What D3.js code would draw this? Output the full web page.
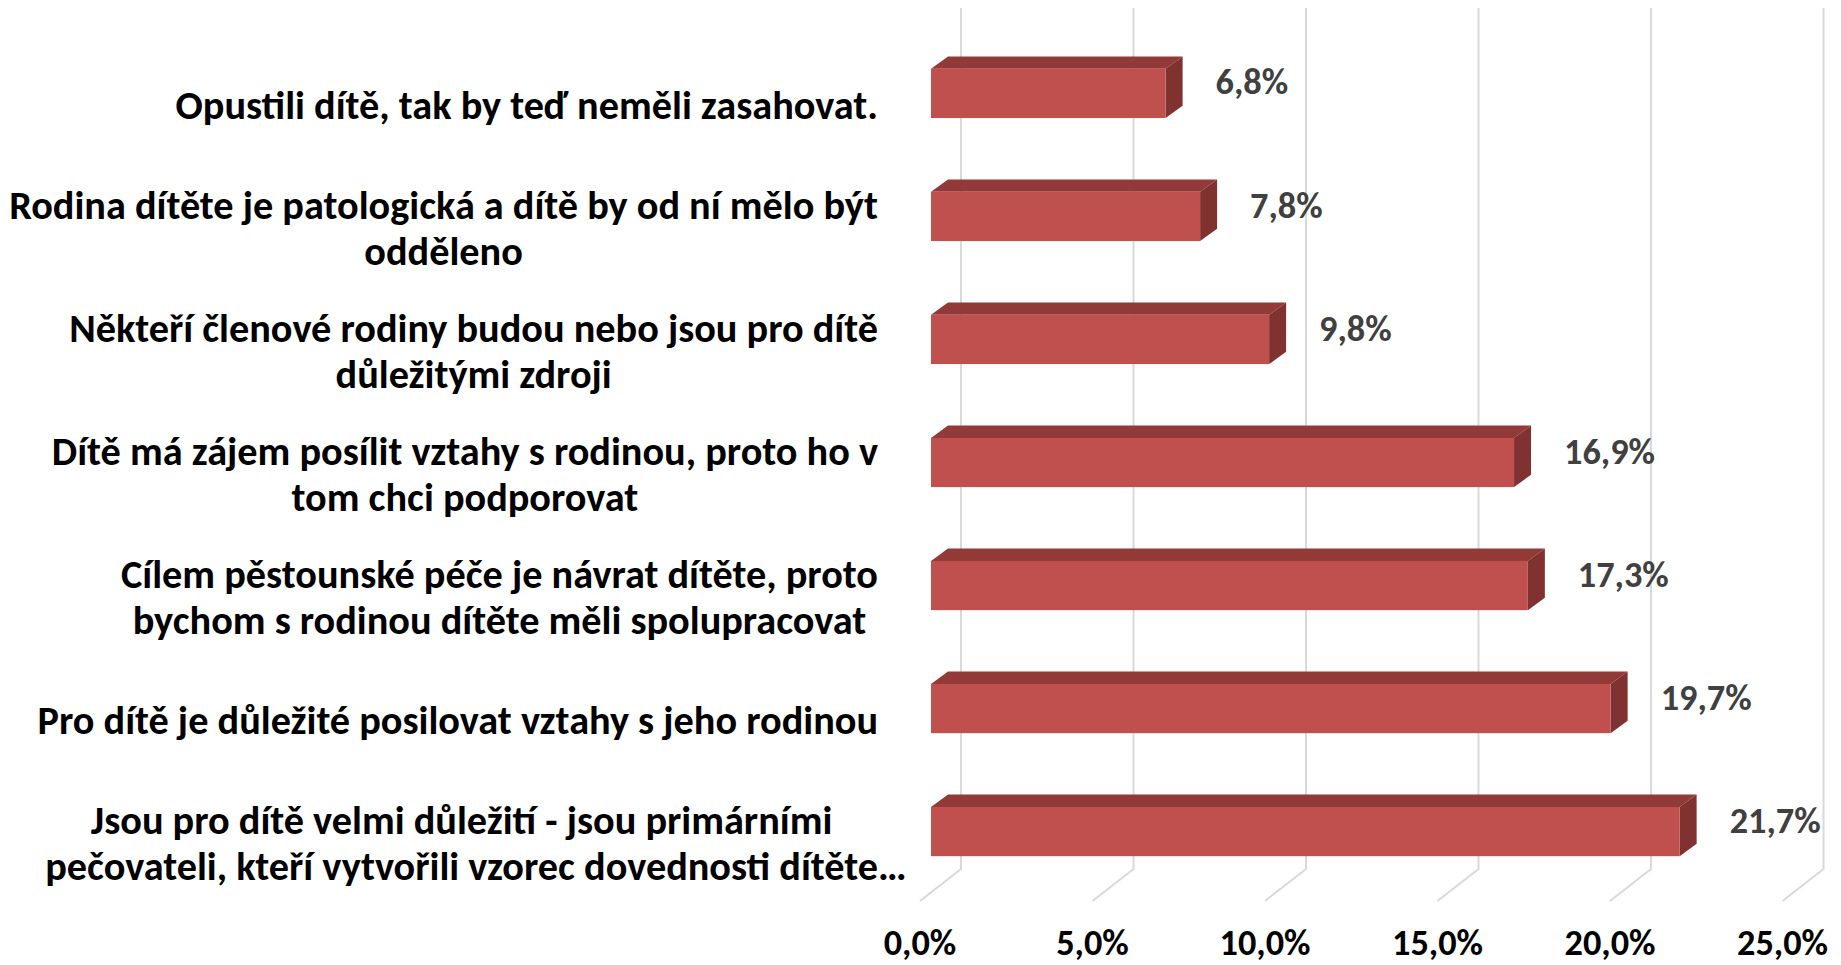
<!DOCTYPE html>
<html>
<head>
<meta charset="utf-8">
<script src="https://cdn.jsdelivr.net/npm/d3@7"></script>
<style>
  html, body { margin: 0; padding: 0; background: #fff; }
  svg { display: block; font-family: Carlito, Calibri, Lato, sans-serif; font-weight: bold; }
</style>
</head>
<body>
<svg id="chart" width="1841" height="965"></svg>
<script>
// categories, top to bottom, already wrapped like the original
const categories = [
  ["Opustili dítě, tak by teď neměli zasahovat."],
  ["Rodina dítěte je patologická a dítě by od ní mělo být", "odděleno"],
  ["Někteří členové rodiny budou nebo jsou pro dítě", "důležitými zdroji"],
  ["Dítě má zájem posílit vztahy s rodinou, proto ho v", "tom chci podporovat"],
  ["Cílem pěstounské péče je návrat dítěte, proto", "bychom s rodinou dítěte měli spolupracovat"],
  ["Pro dítě je důležité posilovat vztahy s jeho rodinou"],
  ["Jsou pro dítě velmi důležití - jsou primárními", "pečovateli, kteří vytvořili vzorec dovednosti dítěte…"]
];
const values = [6.8, 7.8, 9.8, 16.9, 17.3, 19.7, 21.7];
const ticks = [0, 5, 10, 15, 20, 25];

const svg = d3.select("#chart");
const cz = d3.formatLocale({ decimal: ",", thousands: " ", grouping: [3], currency: ["", " Kč"] });
const pct = v => cz.format(".1f")(v) + "%";

// back wall scale, bars sit in front of it
const x = d3.scaleLinear().domain([0, 25]).range([961, 1823.5]);
const y = d3.scaleBand().domain(d3.range(categories.length)).range([-5, 930]).padding(0.6);

const wallTop = 8, wallBottom = 869;
const floorDx = -41, floorDy = 32;   // floor depth
const frontDx = -30;                 // bar front face vs wall
const depthX = 17, depthY = -12.4;   // bar depth

// fit font sizes to the original text widths
function measure(str, size) {
  const t = svg.append("text").attr("font-size", size).text(str);
  const w = t.node().getComputedTextLength();
  t.remove();
  return w;
}
const catSize = 100 * 869 / measure(categories[1][0], 100);
const numSize = 100 * 91 / measure("25,0%", 100);

// gridlines: wall + floor
const grid = svg.append("g").attr("stroke", "#d9d9d9").attr("stroke-width", 2).attr("fill", "none");
grid.selectAll("path").data(ticks).join("path")
  .attr("d", t => `M${x(t)},${wallTop}V${wallBottom}l${floorDx},${floorDy}`);

// tick labels
svg.append("g").selectAll("text").data(ticks).join("text")
  .attr("x", t => x(t) + floorDx)
  .attr("y", 955)
  .attr("text-anchor", "middle")
  .attr("font-size", numSize)
  .attr("fill", "#000")
  .text(pct);

// bars
const fx = v => x(v) + frontDx;
const bars = svg.append("g").selectAll("g").data(values).join("g");
const bw = y.bandwidth();

bars.append("path") // top
  .attr("fill", "#923a38")
  .attr("d", (v, i) => {
    const y0 = y(i);
    return `M${fx(0)},${y0}L${fx(0) + depthX},${y0 + depthY}H${fx(v) + depthX}L${fx(v)},${y0}Z`;
  });
bars.append("path") // side
  .attr("fill", "#7f3230")
  .attr("d", (v, i) => {
    const y0 = y(i);
    return `M${fx(v)},${y0}l${depthX},${depthY}v${bw}l${-depthX},${-depthY}Z`;
  });
bars.append("rect") // front
  .attr("x", fx(0))
  .attr("y", (v, i) => y(i))
  .attr("width", v => fx(v) - fx(0))
  .attr("height", bw)
  .attr("fill", "#c0504d");

// value labels
svg.append("g").selectAll("text").data(values).join("text")
  .attr("x", v => fx(v) + 50)
  .attr("y", (v, i) => y(i) + bw / 2 - 12)
  .attr("dy", "0.36em")
  .attr("font-size", numSize)
  .attr("fill", "#404040")
  .text(pct);

// category labels: lines centred in a block right-aligned to the axis,
// a trailing ellipsis hangs outside the block
const labelRight = 878, lineH = 46;
const lab = svg.append("g").attr("font-size", catSize).attr("fill", "#000");
categories.forEach((lines, i) => {
  const core = lines.map(s => s.replace(/…$/, ""));
  const widths = core.map(s => measure(s, catSize));
  const blockW = d3.max(widths);
  const cx = labelRight - blockW / 2;
  const cy = y(i) + bw / 2 + 11;
  lines.forEach((s, k) => {
    lab.append("text")
      .attr("x", cx - widths[k] / 2)
      .attr("y", cy + (k - (lines.length - 1) / 2) * lineH)
      .attr("dy", "0.36em")
      .text(s);
  });
});
</script>
</body>
</html>
